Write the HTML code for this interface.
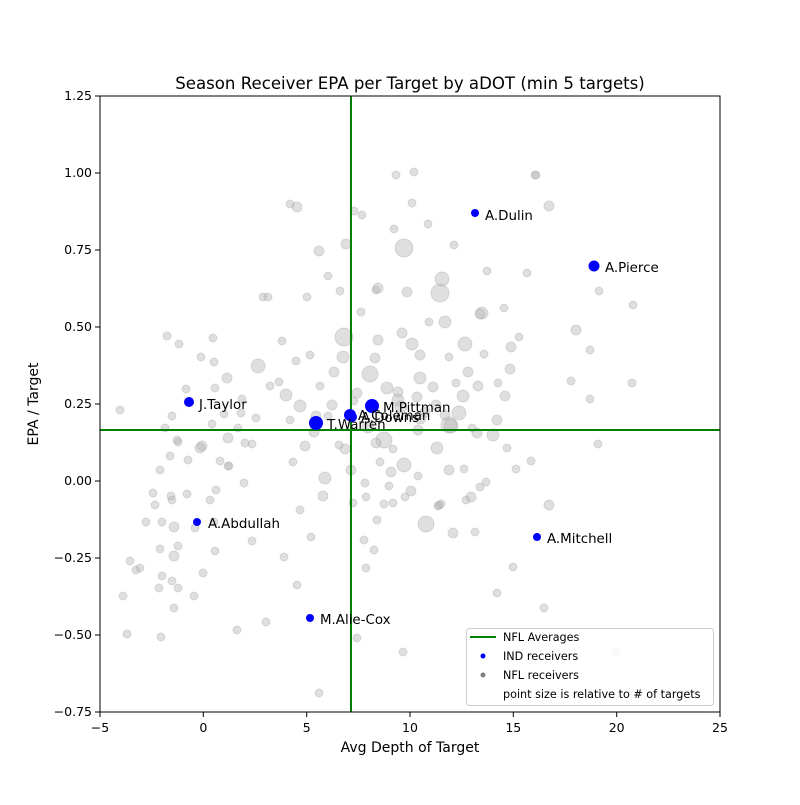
<!DOCTYPE html>
<html><head><meta charset="utf-8"><style>
body{margin:0;background:#fff;}
svg text{font-family:"DejaVu Sans","Liberation Sans",sans-serif;fill:#000;}
</style></head><body>
<svg width="800" height="800" viewBox="0 0 800 800" xmlns="http://www.w3.org/2000/svg">
<rect width="800" height="800" fill="#fff"/>
<text x="410" y="89" font-size="16.6" text-anchor="middle">Season Receiver EPA per Target by aDOT (min 5 targets)</text>
<g fill="#b8b8b8" fill-opacity="0.45" stroke="#999" stroke-opacity="0.3" stroke-width="1">
<circle cx="404" cy="248" r="9"/><circle cx="344" cy="337" r="9"/><circle cx="440" cy="293" r="9"/><circle cx="442" cy="279" r="7"/><circle cx="449" cy="425" r="8"/><circle cx="426" cy="524" r="8"/><circle cx="384" cy="440" r="8"/><circle cx="370" cy="374" r="8"/><circle cx="404" cy="465" r="7"/><circle cx="451" cy="426" r="7"/><circle cx="258" cy="366" r="7"/><circle cx="459" cy="413" r="7"/><circle cx="465" cy="344" r="7"/><circle cx="482" cy="313" r="6"/><circle cx="412" cy="344" r="6"/><circle cx="420" cy="378" r="6"/><circle cx="445" cy="322" r="6"/><circle cx="398" cy="400" r="6"/><circle cx="343" cy="357" r="6"/><circle cx="325" cy="478" r="6"/><circle cx="300" cy="406" r="6"/><circle cx="387" cy="388" r="6"/><circle cx="401" cy="407" r="6"/><circle cx="463" cy="396" r="6"/><circle cx="493" cy="435" r="6"/><circle cx="420" cy="418" r="6"/><circle cx="437" cy="448" r="6"/><circle cx="368" cy="427" r="6"/><circle cx="286" cy="395" r="6"/><circle cx="316" cy="416" r="5"/><circle cx="227" cy="378" r="5"/><circle cx="334" cy="372" r="5"/><circle cx="357" cy="393" r="5"/><circle cx="375" cy="358" r="5"/><circle cx="398" cy="392" r="5"/><circle cx="417" cy="397" r="5"/><circle cx="433" cy="387" r="5"/><circle cx="445" cy="415" r="5"/><circle cx="468" cy="372" r="5"/><circle cx="478" cy="386" r="5"/><circle cx="471" cy="497" r="5"/><circle cx="453" cy="533" r="5"/><circle cx="376" cy="443" r="5"/><circle cx="305" cy="446" r="5"/><circle cx="314" cy="432" r="5"/><circle cx="332" cy="405" r="5"/><circle cx="345" cy="449" r="5"/><circle cx="351" cy="470" r="5"/><circle cx="323" cy="496" r="5"/><circle cx="391" cy="472" r="5"/><circle cx="411" cy="491" r="5"/><circle cx="418" cy="430" r="5"/><circle cx="402" cy="333" r="5"/><circle cx="378" cy="340" r="5"/><circle cx="407" cy="292" r="5"/><circle cx="420" cy="355" r="5"/><circle cx="425" cy="412" r="5"/><circle cx="436" cy="405" r="5"/><circle cx="480" cy="314" r="5"/><circle cx="477" cy="433" r="5"/><circle cx="449" cy="470" r="5"/><circle cx="510" cy="369" r="5"/><circle cx="497" cy="420" r="5"/><circle cx="505" cy="396" r="5"/><circle cx="228" cy="438" r="5"/><circle cx="174" cy="527" r="5"/><circle cx="202" cy="446" r="5"/><circle cx="172" cy="416" r="4"/><circle cx="186" cy="389" r="4"/><circle cx="179" cy="344" r="4"/><circle cx="178" cy="442" r="4"/><circle cx="172" cy="581" r="4"/><circle cx="172" cy="500" r="4"/><circle cx="187" cy="494" r="4"/><circle cx="212" cy="424" r="4"/><circle cx="216" cy="490" r="4"/><circle cx="214" cy="522" r="4"/><circle cx="229" cy="466" r="4"/><circle cx="244" cy="483" r="4"/><circle cx="238" cy="428" r="4"/><circle cx="252" cy="444" r="4"/><circle cx="256" cy="418" r="4"/><circle cx="279" cy="382" r="4"/><circle cx="290" cy="420" r="4"/><circle cx="293" cy="462" r="4"/><circle cx="311" cy="537" r="4"/><circle cx="300" cy="510" r="4"/><circle cx="296" cy="361" r="4"/><circle cx="310" cy="355" r="4"/><circle cx="320" cy="386" r="4"/><circle cx="339" cy="445" r="4"/><circle cx="353" cy="503" r="4"/><circle cx="366" cy="497" r="4"/><circle cx="380" cy="462" r="4"/><circle cx="365" cy="483" r="4"/><circle cx="393" cy="449" r="4"/><circle cx="384" cy="504" r="4"/><circle cx="405" cy="497" r="4"/><circle cx="389" cy="486" r="4"/><circle cx="366" cy="568" r="4"/><circle cx="357" cy="638" r="4"/><circle cx="319" cy="693" r="4"/><circle cx="297" cy="585" r="4"/><circle cx="284" cy="557" r="4"/><circle cx="266" cy="622" r="4"/><circle cx="252" cy="541" r="4"/><circle cx="237" cy="630" r="4"/><circle cx="215" cy="551" r="4"/><circle cx="203" cy="573" r="4"/><circle cx="194" cy="596" r="4"/><circle cx="174" cy="608" r="4"/><circle cx="161" cy="637" r="4"/><circle cx="178" cy="588" r="4"/><circle cx="160" cy="549" r="4"/><circle cx="162" cy="576" r="4"/><circle cx="174" cy="556" r="5"/><circle cx="146" cy="522" r="4"/><circle cx="120" cy="410" r="4"/><circle cx="127" cy="634" r="4"/><circle cx="136" cy="570" r="4"/><circle cx="159" cy="588" r="4"/><circle cx="167" cy="336" r="4"/><circle cx="177" cy="440" r="4"/><circle cx="188" cy="460" r="4"/><circle cx="160" cy="470" r="4"/><circle cx="162" cy="522" r="4"/><circle cx="178" cy="546" r="4"/><circle cx="170" cy="456" r="4"/><circle cx="200" cy="448" r="5"/><circle cx="201" cy="357" r="4"/><circle cx="213" cy="338" r="4"/><circle cx="215" cy="388" r="4"/><circle cx="220" cy="461" r="4"/><circle cx="241" cy="413" r="4"/><circle cx="263" cy="297" r="4"/><circle cx="268" cy="297" r="4"/><circle cx="270" cy="386" r="4"/><circle cx="282" cy="341" r="4"/><circle cx="290" cy="204" r="4"/><circle cx="297" cy="207" r="5"/><circle cx="307" cy="297" r="4"/><circle cx="319" cy="251" r="5"/><circle cx="328" cy="276" r="4"/><circle cx="340" cy="291" r="4"/><circle cx="346" cy="244" r="5"/><circle cx="354" cy="211" r="4"/><circle cx="362" cy="215" r="4"/><circle cx="376" cy="290" r="4"/><circle cx="378" cy="288" r="5"/><circle cx="394" cy="229" r="4"/><circle cx="396" cy="175" r="4"/><circle cx="414" cy="172" r="4"/><circle cx="412" cy="203" r="4"/><circle cx="428" cy="224" r="4"/><circle cx="454" cy="245" r="4"/><circle cx="487" cy="271" r="4"/><circle cx="504" cy="308" r="4"/><circle cx="519" cy="337" r="4"/><circle cx="535" cy="175" r="4"/><circle cx="549" cy="206" r="5"/><circle cx="576" cy="330" r="5"/><circle cx="590" cy="350" r="4"/><circle cx="599" cy="291" r="4"/><circle cx="633" cy="305" r="4"/><circle cx="632" cy="383" r="4"/><circle cx="590" cy="399" r="4"/><circle cx="598" cy="444" r="4"/><circle cx="571" cy="381" r="4"/><circle cx="527" cy="273" r="4"/><circle cx="511" cy="347" r="5"/><circle cx="531" cy="461" r="4"/><circle cx="516" cy="469" r="4"/><circle cx="513" cy="567" r="4"/><circle cx="549" cy="505" r="5"/><circle cx="544" cy="608" r="4"/><circle cx="497" cy="593" r="4"/><circle cx="475" cy="532" r="4"/><circle cx="438" cy="506" r="4"/><circle cx="441" cy="504" r="4"/><circle cx="418" cy="476" r="4"/><circle cx="403" cy="652" r="4"/><circle cx="377" cy="520" r="4"/><circle cx="374" cy="550" r="4"/><circle cx="364" cy="540" r="4"/><circle cx="393" cy="503" r="4"/><circle cx="439" cy="505" r="4"/><circle cx="464" cy="469" r="4"/><circle cx="486" cy="482" r="4"/><circle cx="472" cy="428" r="4"/><circle cx="507" cy="448" r="4"/><circle cx="480" cy="487" r="4"/><circle cx="498" cy="383" r="4"/><circle cx="484" cy="354" r="4"/><circle cx="456" cy="383" r="4"/><circle cx="429" cy="322" r="4"/><circle cx="449" cy="357" r="4"/><circle cx="361" cy="312" r="4"/><circle cx="354" cy="401" r="4"/><circle cx="328" cy="416" r="4"/><circle cx="245" cy="443" r="4"/><circle cx="228" cy="466" r="4"/><circle cx="210" cy="500" r="4"/><circle cx="171" cy="496" r="4"/><circle cx="195" cy="528" r="4"/><circle cx="140" cy="568" r="4"/><circle cx="153" cy="493" r="4"/><circle cx="165" cy="428" r="4"/><circle cx="155" cy="505" r="4"/><circle cx="123" cy="596" r="4"/><circle cx="130" cy="561" r="4"/><circle cx="214" cy="362" r="4"/><circle cx="224" cy="414" r="4"/><circle cx="242" cy="399" r="4"/><circle cx="616" cy="652" r="4"/><circle cx="536" cy="175" r="4"/><circle cx="466" cy="500" r="4"/></g>
<line x1="351" y1="96" x2="351" y2="712" stroke="#008000" stroke-width="2"/>
<line x1="100" y1="430" x2="720" y2="430" stroke="#008000" stroke-width="2"/>
<g fill="#0000ff">
<circle cx="475" cy="213" r="4"/><circle cx="594" cy="266" r="5.5"/><circle cx="189" cy="402" r="5"/><circle cx="372" cy="406" r="7"/><circle cx="350" cy="415" r="6"/><circle cx="352" cy="417" r="5"/><circle cx="316" cy="423" r="7"/><circle cx="197" cy="522" r="4"/><circle cx="537" cy="537" r="4"/><circle cx="310" cy="618" r="4"/>
</g>
<g font-size="13.4">
<text x="485" y="220">A.Dulin</text><text x="605" y="272">A.Pierce</text><text x="199" y="409">J.Taylor</text><text x="383" y="412">M.Pittman</text><text x="358" y="420">A.Coleman</text><text x="361" y="422">A.Downs</text><text x="327" y="429">T.Warren</text><text x="208" y="528">A.Abdullah</text><text x="547" y="543">A.Mitchell</text><text x="320" y="624">M.Alie-Cox</text>
</g>
<rect x="100" y="96" width="620" height="616" fill="none" stroke="#000" stroke-width="1"/>
<g stroke="#000"><line x1="100" y1="712" x2="100" y2="717"/><line x1="203.3" y1="712" x2="203.3" y2="717"/><line x1="306.7" y1="712" x2="306.7" y2="717"/><line x1="410" y1="712" x2="410" y2="717"/><line x1="513.3" y1="712" x2="513.3" y2="717"/><line x1="616.7" y1="712" x2="616.7" y2="717"/><line x1="720" y1="712" x2="720" y2="717"/>
<line x1="95" y1="96" x2="100" y2="96"/><line x1="95" y1="173" x2="100" y2="173"/><line x1="95" y1="250" x2="100" y2="250"/><line x1="95" y1="327" x2="100" y2="327"/><line x1="95" y1="404" x2="100" y2="404"/><line x1="95" y1="481" x2="100" y2="481"/><line x1="95" y1="558" x2="100" y2="558"/><line x1="95" y1="635" x2="100" y2="635"/><line x1="95" y1="712" x2="100" y2="712"/></g>
<g font-size="12.5" text-anchor="middle"><text x="100" y="732">−5</text><text x="203.3" y="732">0</text><text x="306.7" y="732">5</text><text x="410" y="732">10</text><text x="513.3" y="732">15</text><text x="616.7" y="732">20</text><text x="720" y="732">25</text></g>
<g font-size="12.5" text-anchor="end"><text x="92" y="100">1.25</text><text x="92" y="177">1.00</text><text x="92" y="254">0.75</text><text x="92" y="331">0.50</text><text x="92" y="408">0.25</text><text x="92" y="485">0.00</text><text x="92" y="562">−0.25</text><text x="92" y="639">−0.50</text><text x="92" y="716">−0.75</text></g>
<text x="410" y="752" font-size="14" text-anchor="middle">Avg Depth of Target</text>
<text transform="translate(38,404) rotate(-90)" font-size="14" text-anchor="middle">EPA / Target</text>
<rect x="466.5" y="628.5" width="247" height="77" rx="3" fill="#fff" fill-opacity="0.85" stroke="#ccc"/>
<line x1="470" y1="637" x2="496" y2="637" stroke="#008000" stroke-width="2"/>
<circle cx="483" cy="656" r="2.5" fill="#0000ff"/><circle cx="483" cy="675" r="2.5" fill="#808080"/>
<g font-size="11.2"><text x="503" y="641">NFL Averages</text><text x="503" y="660">IND receivers</text><text x="503" y="679">NFL receivers</text><text x="503" y="698">point size is relative to # of targets</text></g>
</svg>
</body></html>
